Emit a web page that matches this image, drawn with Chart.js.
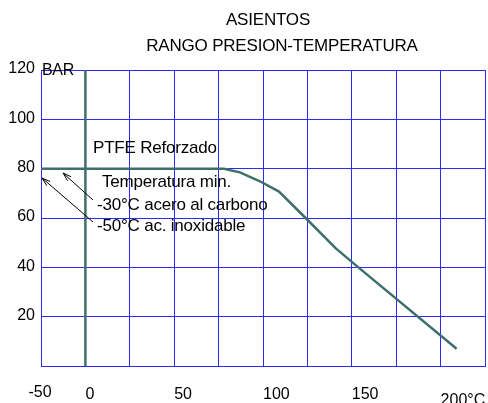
<!DOCTYPE html>
<html>
<head>
<meta charset="utf-8">
<script src="https://cdn.jsdelivr.net/npm/chart.js@4.4.1/dist/chart.umd.min.js"></script>
<style>
  html, body { margin: 0; padding: 0; background: #fff; }
  #wrap { width: 488px; height: 403px; }
</style>
</head>
<body>
<div id="wrap"><canvas id="ptChart" width="488" height="403"></canvas></div>
<script>
const TITLE_LINES = ["ASIENTOS", "RANGO PRESION-TEMPERATURA"];

// PTFE reforzado curve: temperature (°C) vs pressure (bar)
const CURVE_TEMPS = [-50, 78, 87, 98, 109, 124, 141, 152, 209];
const CURVE_PRESSURES = [80, 80, 78.5, 75, 70.7, 60, 47.7, 41, 7];

// vertical line at 0 °C
const ZERO_LINE_TEMPS = [0, 0];
const ZERO_LINE_PRESSURES = [0, 120];

const X_TICK_TEMPS = [-50, 0, 50, 100, 150, 200];
const X_TICK_LABELS = ["-50", "0", "50", "100", "150", "200°C"];
const Y_MAX = 120;
const Y_STEP = 20;

const MATERIAL_LABEL = "PTFE Reforzado";
const NOTE_LINES = ["Temperatura min.", "-30°C acero al carbono", "-50°C ac. inoxidable"];

const FONT = "'Liberation Sans', Arial, sans-serif";
const TEAL = "#3f6f6d";
const GRID_BLUE = "#2a2aff";

// the first column spans -50..0 (50 °C), the others 25 °C each
function toAxis(t) {
  return t < 0 ? t / 2 : t;
}

function points(temps, pressures) {
  return temps.map((t, i) => ({ x: toAxis(t), y: pressures[i] }));
}

// ==============================
// TEXT + ARROWS
// ==============================
const annotations = {
  id: "annotations",
  afterDatasetsDraw(chart) {
    const { ctx, scales: { x, y } } = chart;
    ctx.save();
    ctx.fillStyle = "#000";

    // titles
    ctx.font = `17px ${FONT}`;
    ctx.letterSpacing = "-0.2px";
    ctx.textAlign = "center";
    ctx.textBaseline = "alphabetic";
    ctx.fillText(TITLE_LINES[0], 268, 25);
    ctx.fillText(TITLE_LINES[1], 282, 51);

    // material + notes
    ctx.textAlign = "left";
    ctx.fillText(MATERIAL_LABEL, 93, 153);
    ctx.fillText(NOTE_LINES[0], 102, 187);
    ctx.fillText(NOTE_LINES[1], 97, 210);
    ctx.fillText(NOTE_LINES[2], 97, 231);

    // BAR unit next to the top tick
    ctx.font = `16px ${FONT}`;
    ctx.letterSpacing = "-0.3px";
    ctx.textBaseline = "middle";
    ctx.fillText("BAR", 42, y.getPixelForValue(Y_MAX) + 1);

    // x tick labels
    ctx.letterSpacing = "0px";
    ctx.textBaseline = "alphabetic";
    X_TICK_TEMPS.forEach((t, i) => {
      const px = x.getPixelForValue(toAxis(t));
      if (i === 0) {
        ctx.textAlign = "center";
        ctx.fillText(X_TICK_LABELS[i], px - 1, 397);
      } else {
        ctx.textAlign = "left";
        const last = i === X_TICK_TEMPS.length - 1;
        ctx.fillText(X_TICK_LABELS[i], px, last ? 405 : 399);
      }
    });

    // arrows
    ctx.strokeStyle = "#000";
    ctx.lineWidth = 1;
    drawArrow(ctx, 93, 222, 42, 178);
    drawArrow(ctx, 93, 200, 63, 173);
    ctx.restore();
  }
};

function drawArrow(ctx, x1, y1, x2, y2) {
  const a = Math.atan2(y2 - y1, x2 - x1);
  const len = 9;
  ctx.beginPath();
  ctx.moveTo(x1, y1);
  ctx.lineTo(x2, y2);
  ctx.moveTo(x2 - len * Math.cos(a - 0.3), y2 - len * Math.sin(a - 0.3));
  ctx.lineTo(x2, y2);
  ctx.lineTo(x2 - len * Math.cos(a + 0.3), y2 - len * Math.sin(a + 0.3));
  ctx.stroke();
}

// ==============================
// CHART
// ==============================
const ctx = document.getElementById("ptChart").getContext("2d");

new Chart(ctx, {
  type: "line",
  data: {
    datasets: [
      {
        label: "PTFE Reforzado",
        data: points(CURVE_TEMPS, CURVE_PRESSURES),
        borderColor: TEAL,
        borderWidth: 2.5,
        pointRadius: 0,
        tension: 0,
        fill: false
      },
      {
        label: "0 °C",
        data: points(ZERO_LINE_TEMPS, ZERO_LINE_PRESSURES),
        borderColor: TEAL,
        borderWidth: 2.5,
        pointRadius: 0,
        fill: false
      }
    ]
  },
  options: {
    responsive: false,
    animation: false,
    layout: { padding: { top: 70, right: 3, bottom: 37, left: 0 } },
    plugins: {
      legend: { display: false },
      tooltip: { enabled: false }
    },
    scales: {
      x: {
        type: "linear",
        min: toAxis(X_TICK_TEMPS[0]),
        max: 225,
        ticks: { stepSize: 25, display: false },
        grid: { color: GRID_BLUE, lineWidth: 1, drawTicks: false },
        border: { color: GRID_BLUE },
        afterFit: s => { s.height = 0; }
      },
      y: {
        min: 0,
        max: Y_MAX,
        ticks: {
          stepSize: Y_STEP,
          color: "#000",
          font: { family: FONT, size: 16 },
          padding: 6,
          labelOffset: -1,
          callback: v => (v === 0 ? "" : v)
        },
        grid: { color: GRID_BLUE, lineWidth: 1, drawTicks: false },
        border: { color: GRID_BLUE },
        afterFit: s => { s.width = 41; }
      }
    }
  },
  plugins: [annotations]
});
</script>
</body>
</html>
